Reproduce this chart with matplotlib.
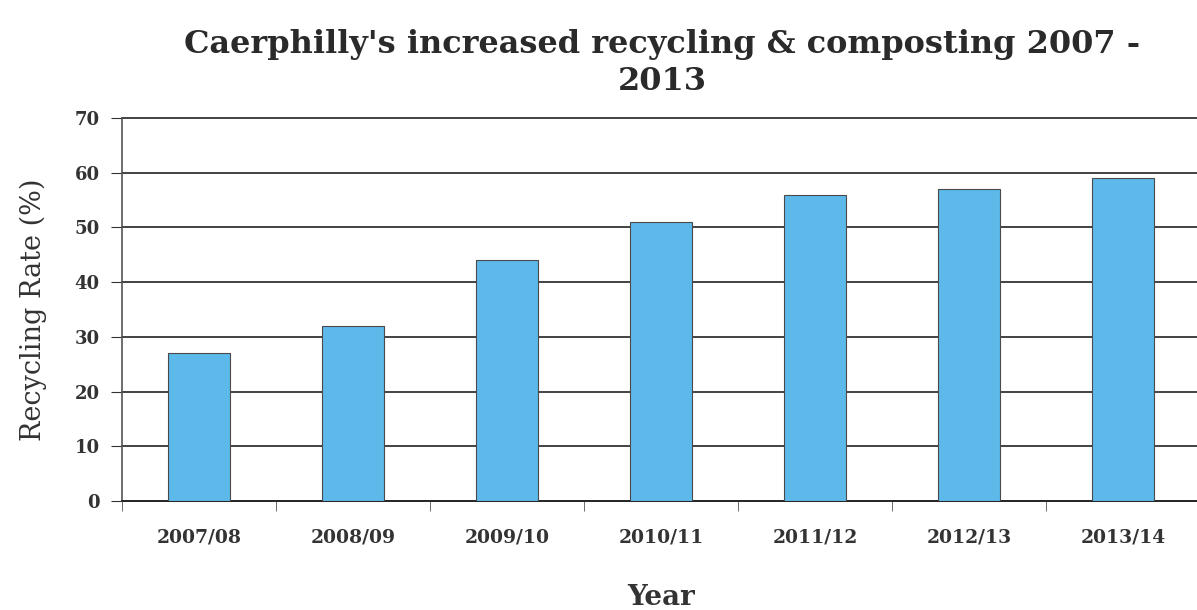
import matplotlib
matplotlib.use("Agg")
import matplotlib.pyplot as plt
import numpy as np

years = ["2007/08", "2008/09", "2009/10", "2010/11", "2011/12", "2012/13", "2013/14"]
rates = [27, 32, 44, 51, 56, 57, 59]

plt.rcParams['font.family'] = ['DejaVu Serif']

fig = plt.figure(figsize=(11.97, 6.10), dpi=100)
ax = fig.add_axes([0.102, 0.1787, 0.9005, 0.628])

x = np.arange(len(years))
ax.bar(x, rates, width=0.4, color="#5db9e9", edgecolor="#4a4a4a", linewidth=0.8, zorder=3)

ax.set_xlim(-0.5, len(years) - 0.5)
ax.set_ylim(0, 70)
ax.set_yticks(np.arange(0, 71, 10))
ax.yaxis.grid(True, color="#222222", linewidth=1.2, zorder=0)
ax.set_axisbelow(True)
for gl in ax.get_ygridlines():
    gl.set_clip_on(False)

ax.set_xticks(x)
ax.set_xticklabels(years, fontsize=13.5, color="#333333", fontweight='bold')
ax.set_xticks(np.arange(-0.5, len(years), 1.0), minor=True)
ax.tick_params(axis='x', which='major', length=0, pad=20)
ax.tick_params(axis='x', which='minor', length=7, color="#555555", direction='out')
ax.tick_params(axis='y', length=8, color="#333333", labelsize=13, labelcolor="#333333", pad=8)
for lbl in ax.get_yticklabels():
    lbl.set_fontweight('bold')

for s in ['top', 'right']:
    ax.spines[s].set_visible(False)
ax.spines['left'].set_color("#555555")
ax.spines['bottom'].set_color("#222222")
ax.spines['left'].set_linewidth(1.2)
ax.spines['bottom'].set_linewidth(1.2)

ax.set_ylabel("Recycling Rate (%)", fontsize=19.5, color="#333333", labelpad=20)
ax.set_xlabel("Year", fontsize=20, fontweight='bold', color="#333333", labelpad=27)

fig.text(0.553, 0.897, "Caerphilly's increased recycling & composting 2007 -\n2013",
         ha='center', va='center', fontsize=23, fontweight='bold', color="#2a2a2a",
         linespacing=1.25)

fig.savefig("out.png", dpi=100)
